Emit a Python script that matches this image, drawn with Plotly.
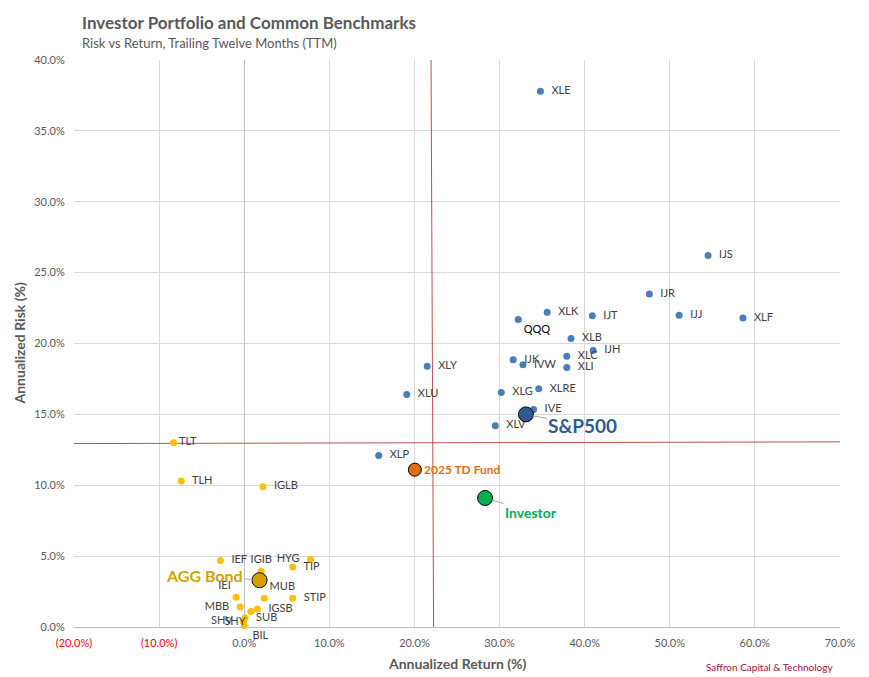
import plotly.graph_objects as go

# ---- data (Annualized Return %, Annualized Risk %) ----
equity_names = ["XLE", "IJS", "IJR", "XLK", "IJT", "IJJ", "XLF", "QQQ", "XLB", "IJH",
                "XLC", "IJK", "IVW", "XLI", "XLY", "XLU", "XLG", "XLRE", "IVE", "XLV", "XLP"]
equity_return = [34.8, 54.5, 47.6, 35.6, 40.9, 51.1, 58.6, 32.2, 38.4, 41.0,
                 37.9, 31.6, 32.75, 37.9, 21.5, 19.1, 30.2, 34.6, 34.0, 29.5, 15.8]
equity_risk = [37.8, 26.2, 23.5, 22.2, 21.95, 22.0, 21.8, 21.7, 20.35, 19.5,
               19.1, 18.85, 18.5, 18.3, 18.4, 16.4, 16.55, 16.8, 15.35, 14.2, 12.1]
equity_textpos = ["middle right"] * 21
equity_textpos[7] = "bottom right"
equity_pad = [2] * 21
equity_pad[7] = 0

bond_names = ["TLT", "TLH", "IGLB", "IEF", "HYG", "IGIB", "TIP", "IEI", "MUB", "STIP",
              "MBB", "IGSB", "SHY", "SUB", "SHV", "BIL"]
bond_return = [-8.3, -7.4, 2.2, -2.8, 7.8, 2.0, 5.7, -0.95, 2.35, 5.7,
               -0.47, 1.55, 0.8, 0.1, -0.1, 0.0]
bond_risk = [13.0, 10.3, 9.9, 4.7, 4.77, 3.94, 4.23, 2.1, 2.02, 2.02,
             1.41, 1.27, 1.1, 0.65, 0.4, 0.1]
bond_textpos = ["middle right", "middle right", "middle right", "middle right", "middle left",
                "top center", "middle right", "top left", "top right", "middle right",
                "middle left", "middle right", "bottom left", "middle right", "middle left",
                "bottom right"]
bond_pad = [0, 2, 2, 2, 2, 0, 2, 0, 0, 2, 2, 2, 0, 2, 2, 1]

highlight_names = ["S&P500", "Investor", "2025 TD Fund", "AGG Bond"]
highlight_return = [33.1, 28.3, 20.05, 1.8]
highlight_risk = [15.0, 9.1, 11.1, 3.3]

# average lines (return mean, risk mean)
vline_x = [21.95, 22.25]
vline_y = [40.0, 0.0]
hline_x = [-20.0, 70.0]
hline_y = [12.94, 13.06]

x_ticks = [-20, -10, 0, 10, 20, 30, 40, 50, 60, 70]
y_ticks = [0, 5, 10, 15, 20, 25, 30, 35, 40]

FONT = "Lato"
GRAY = "#595959"
NB = "\u00a0"


def fmt_x(v):
    if v < 0:
        return "<span style='color:#ff0000'>(%.1f%%)</span>" % abs(v)
    return "%.1f%%" % v


def pad(name, pos, n):
    if pos.endswith("right"):
        return NB * n + name
    if pos.endswith("left"):
        return name + NB * n
    return name


fig = go.Figure()

fig.add_trace(go.Scatter(x=vline_x, y=vline_y, mode="lines",
                         line=dict(color="#c0504d", width=1), hoverinfo="skip", showlegend=False))
fig.add_trace(go.Scatter(x=hline_x, y=hline_y, mode="lines",
                         line=dict(color="#c0504d", width=1), hoverinfo="skip", showlegend=False))

text_colors_eq = ["#404040"] * len(equity_names)
text_colors_eq[7] = "#000000"
fig.add_trace(go.Scatter(
    x=equity_return, y=equity_risk, mode="markers+text",
    text=[pad(n, p, k) for n, p, k in zip(equity_names, equity_textpos, equity_pad)],
    textposition=equity_textpos,
    textfont=dict(family=FONT, size=11, color=text_colors_eq),
    marker=dict(color="#4a7ebb", size=7, opacity=1), showlegend=False, cliponaxis=False))

fig.add_trace(go.Scatter(
    x=bond_return, y=bond_risk, mode="markers+text",
    text=[pad(n, p, k) for n, p, k in zip(bond_names, bond_textpos, bond_pad)],
    textposition=bond_textpos,
    textfont=dict(family=FONT, size=11, color="#404040"),
    marker=dict(color="#ffc000", size=7, opacity=1), showlegend=False, cliponaxis=False))

hl_colors = ["#2f5b8f", "#00b050", "#e46c0a", "#d4a200"]
hl_sizes = [15, 15, 13, 15]
fig.add_trace(go.Scatter(
    x=highlight_return, y=highlight_risk, mode="markers",
    marker=dict(color=hl_colors, size=hl_sizes, opacity=1, line=dict(color="#000000", width=1)),
    showlegend=False, cliponaxis=False))

hl_label_sizes = [19, 14, 12, 16]
hl_ax = [57, 46, 48, -55]
hl_ay = [11, 14, 0, -5]
hl_arrow = [True, True, False, True]
for i, name in enumerate(highlight_names):
    fig.add_annotation(
        x=highlight_return[i], y=highlight_risk[i], text="<b>%s</b>" % name,
        showarrow=True, arrowhead=0, arrowwidth=1,
        arrowcolor="#a6a6a6" if hl_arrow[i] else "rgba(0,0,0,0)",
        standoff=7, ax=hl_ax[i], ay=hl_ay[i],
        font=dict(family=FONT, size=hl_label_sizes[i], color=hl_colors[i]))

# titles and footer as paper annotations (plot area: x 74..840, y 60..627)
fig.add_annotation(xref="paper", yref="paper", x=0.0078, y=1.067, xanchor="left", yanchor="middle",
                   text="<b>Investor Portfolio and Common Benchmarks</b>", showarrow=False,
                   font=dict(family=FONT, size=17, color=GRAY))
fig.add_annotation(xref="paper", yref="paper", x=0.0078, y=1.030, xanchor="left", yanchor="middle",
                   text="Risk vs Return, Trailing Twelve Months (TTM)", showarrow=False,
                   font=dict(family=FONT, size=13, color=GRAY))
fig.add_annotation(xref="paper", yref="paper", x=0.5, y=-0.065, xanchor="center", yanchor="middle",
                   text="<b>Annualized Return (%)</b>", showarrow=False,
                   font=dict(family=FONT, size=14, color=GRAY))
fig.add_annotation(xref="paper", yref="paper", x=-0.0705, y=0.5, xanchor="center", yanchor="middle",
                   text="<b>Annualized Risk (%)</b>", showarrow=False, textangle=-90,
                   font=dict(family=FONT, size=14, color=GRAY))
fig.add_annotation(xref="paper", yref="paper", x=0.9935, y=-0.0705, xanchor="right", yanchor="middle",
                   text="Saffron Capital & Technology", showarrow=False,
                   font=dict(family=FONT, size=10, color="#a0103c"))

fig.update_layout(
    width=869, height=677,
    margin=dict(l=74, r=29, t=60, b=50, autoexpand=False),
    paper_bgcolor="white", plot_bgcolor="white",
    font=dict(family=FONT, color=GRAY),
    xaxis=dict(range=[-20, 70], tickvals=x_ticks, ticktext=[fmt_x(v) for v in x_ticks],
               showgrid=True, gridcolor="#d9d9d9", gridwidth=1,
               zeroline=True, zerolinecolor="#bfbfbf", zerolinewidth=1,
               showline=False, ticks="outside", ticklen=6, tickcolor="rgba(0,0,0,0)",
               tickfont=dict(family=FONT, size=11, color=GRAY), automargin=False),
    yaxis=dict(range=[0, 40], tickvals=y_ticks, ticktext=["%.1f%%" % v for v in y_ticks],
               showgrid=True, gridcolor="#d9d9d9", gridwidth=1,
               zeroline=True, zerolinecolor="#bfbfbf", zerolinewidth=1,
               showline=False, ticks="outside", ticklen=6, tickcolor="rgba(0,0,0,0)",
               tickfont=dict(family=FONT, size=11, color=GRAY), automargin=False),
)

fig.write_html("out.html", config={"displayModeBar": False},
               post_script="document.body.style.margin='0px';")
